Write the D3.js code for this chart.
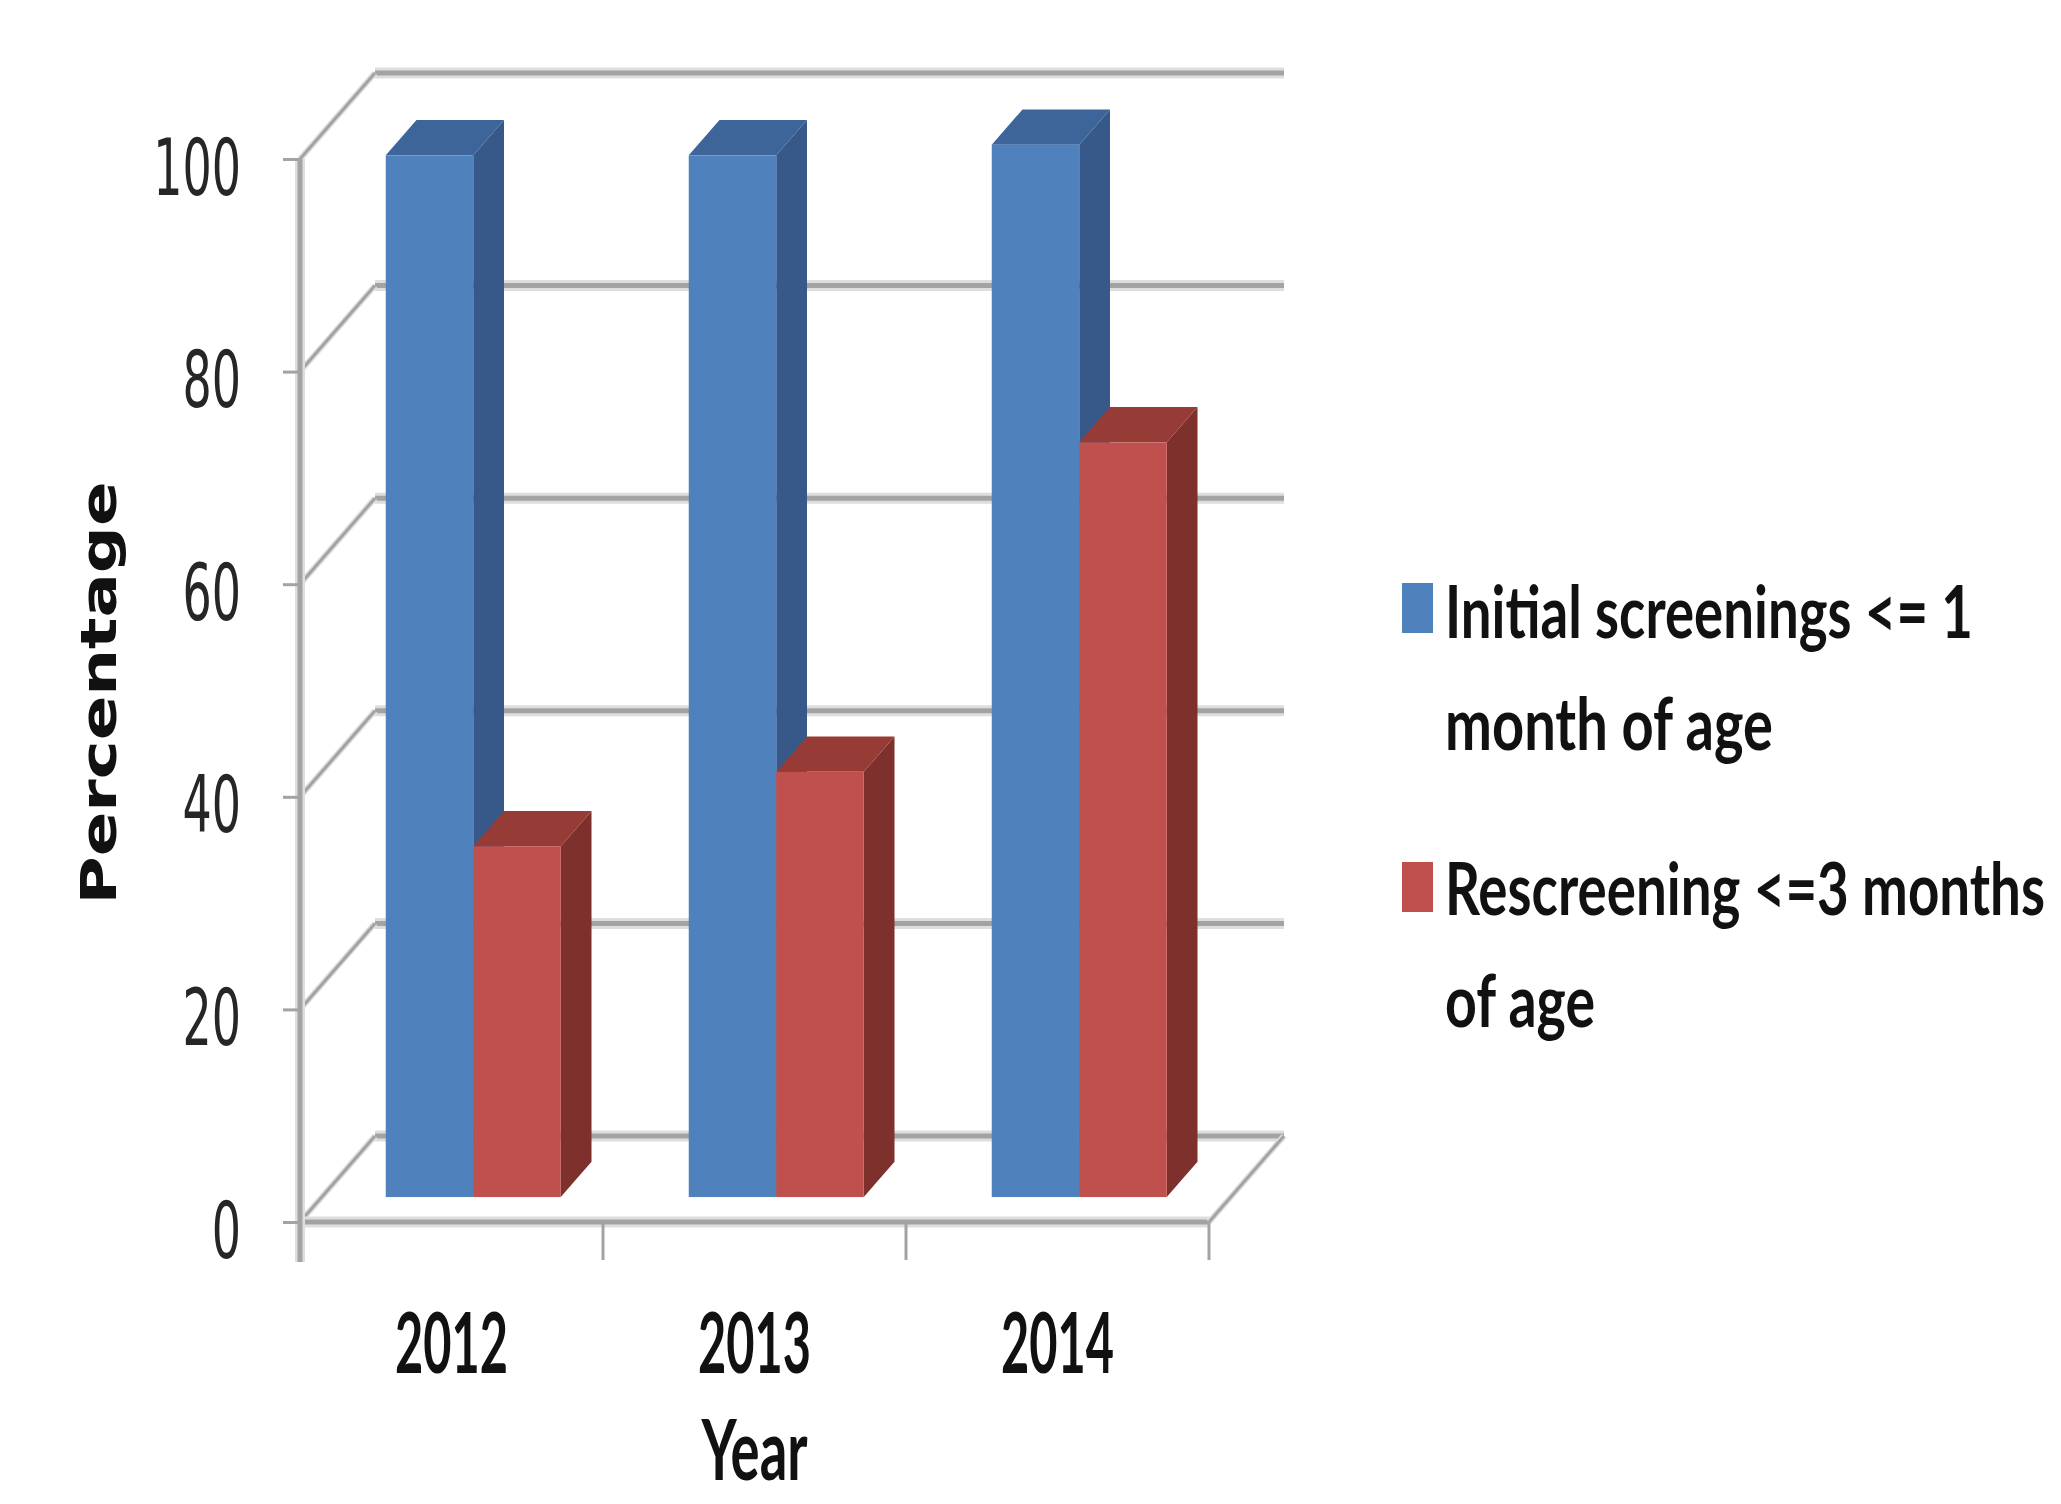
<!DOCTYPE html>
<html>
<head>
<meta charset="utf-8">
<script src="https://cdn.jsdelivr.net/npm/d3@7"></script>
<style>
  html, body { margin: 0; padding: 0; background: #ffffff; }
  svg { display: block; }
</style>
</head>
<body>
<svg id="chart" width="2061" height="1504"></svg>
<script>
// ---- data ----
const years = ["2012", "2013", "2014"];
const seriesKeys = ["initial", "rescreen"];
const seriesLabels = [
  ["Initial screenings <= 1", "month of age"],
  ["Rescreening <=3 months", "of age"]
];
const initialScreening = [98, 98, 99];   // % initial screenings <= 1 month of age
const rescreening = [33, 40, 71];        // % rescreening <= 3 months of age
const yTicks = [0, 20, 40, 60, 80, 100];

// ---- layout ----
const W = 2061, H = 1504;
const frontX0 = 300, frontX1 = 1209;   // front edge of the floor
const yBase = 1222, yTop = 159;        // front value axis
const DX = 75, DY = 86;                // depth offset of the back wall
const f1 = 0.29, f2 = 0.70;            // bar depth (front / back fraction)
const STRETCH = 1.7;                   // vertical text stretch

const faces = {
  initial:  { front: "#4f81bd", side: "#36598a", top: "#3d6599" },
  rescreen: { front: "#c0504d", side: "#7e302d", top: "#973b37" }
};

const svg = d3.select("#chart");

const x = d3.scaleBand().domain(years).range([frontX0, frontX1]).padding(0);
const xs = d3.scaleBand().domain(seriesKeys).range([64, x.bandwidth() - 64]).padding(0);
const y = d3.scaleLinear().domain([0, 100]).range([yBase, yTop]);

const values = { initial: initialScreening, rescreen: rescreening };

function gridLine(g, x1, y1, x2, y2, wCore, wHalo) {
  g.append("line").attr("x1", x1).attr("y1", y1).attr("x2", x2).attr("y2", y2)
    .attr("stroke", "#dedede").attr("stroke-width", wHalo).attr("stroke-linecap", "butt");
  g.append("line").attr("x1", x1).attr("y1", y1).attr("x2", x2).attr("y2", y2)
    .attr("stroke", "#a3a3a3").attr("stroke-width", wCore).attr("stroke-linecap", "butt");
}

// ---- walls and floor ----
const walls = svg.append("g");
yTicks.forEach(t => {
  // back wall gridline
  gridLine(walls, frontX0 + DX, y(t) - DY, frontX1 + DX, y(t) - DY, 5, 11);
});
yTicks.forEach(t => {
  // side wall diagonal
  gridLine(walls, frontX0, y(t), frontX0 + DX, y(t) - DY, 3, 6);
});
// floor front edge and right edge
gridLine(walls, frontX0, yBase, frontX1, yBase, 5, 11);
gridLine(walls, frontX1, yBase, frontX1 + DX, yBase - DY, 3, 6);

// category ticks at band boundaries
const bounds = years.map(d => x(d)).concat([x(years[years.length - 1]) + x.bandwidth()]);
bounds.forEach(b => {
  walls.append("line").attr("x1", b).attr("x2", b).attr("y1", yBase).attr("y2", yBase + 38)
    .attr("stroke", "#a3a3a3").attr("stroke-width", 3);
});

// front value axis line
gridLine(walls, frontX0, yTop, frontX0, yBase + 40, 5, 10);

// value axis ticks + labels
const yAxis = d3.axisLeft(y).tickValues(yTicks).tickSize(17).tickPadding(42);
const gY = svg.append("g").attr("transform", `translate(${frontX0},0)`).call(yAxis);
gY.select(".domain").remove();
gY.selectAll(".tick line").attr("stroke", "#a3a3a3").attr("stroke-width", 3);
gY.selectAll(".tick text")
  .attr("dy", null)
  .attr("y", 35 / STRETCH)
  .attr("transform", `scale(1,${STRETCH})`)
  .attr("font-family", "DejaVu Sans, Verdana, sans-serif")
  .attr("font-size", 46)
  .attr("fill", "#262626");

// ---- 3D bars ----
const bdx = (f2 - f1) * DX, bdy = (f2 - f1) * DY;
const bars = svg.append("g");
years.forEach((yr, i) => {
  seriesKeys.forEach(k => {
    const v = values[k][i];
    const xl = x(yr) + xs(k) + f1 * DX;
    const xr = xl + xs.bandwidth();
    const yb = y(0) - f1 * DY;
    const yt = y(v) - f1 * DY;
    const c = faces[k];
    const g = bars.append("g").attr("class", "bar");
    // right side face
    g.append("path")
      .attr("d", `M${xr},${yt}L${xr + bdx},${yt - bdy}L${xr + bdx},${yb - bdy}L${xr},${yb}Z`)
      .attr("fill", c.side);
    // top face
    g.append("path")
      .attr("d", `M${xl},${yt}L${xl + bdx},${yt - bdy}L${xr + bdx},${yt - bdy}L${xr},${yt}Z`)
      .attr("fill", c.top);
    // front face
    g.append("rect")
      .attr("x", xl).attr("y", yt).attr("width", xs.bandwidth()).attr("height", yb - yt)
      .attr("fill", c.front);
  });
});

// ---- category labels ----
const catFont = "Lato, 'Open Sans', sans-serif";
years.forEach(yr => {
  svg.append("text")
    .attr("transform", `translate(${x(yr) + x.bandwidth() / 2},1373) scale(1,${STRETCH})`)
    .attr("text-anchor", "middle")
    .attr("font-family", catFont).attr("font-size", 49).attr("font-weight", "bold")
    .attr("textLength", 113).attr("lengthAdjust", "spacingAndGlyphs")
    .attr("fill", "#111")
    .text(yr);
});

// axis titles
svg.append("text")
  .attr("transform", `translate(${(frontX0 + frontX1) / 2},1480) scale(1,${STRETCH})`)
  .attr("text-anchor", "middle")
  .attr("font-family", catFont).attr("font-size", 49).attr("font-weight", "bold")
  .attr("textLength", 106).attr("lengthAdjust", "spacingAndGlyphs")
  .attr("fill", "#111")
  .text("Year");

svg.append("text")
  .attr("transform", "translate(116,693) rotate(-90)")
  .attr("text-anchor", "middle")
  .attr("font-family", "DejaVu Sans, Verdana, sans-serif")
  .attr("font-weight", "bold").attr("font-size", 49)
  .attr("textLength", 423).attr("lengthAdjust", "spacingAndGlyphs")
  .attr("fill", "#111")
  .text("Percentage");

// ---- legend ----
const legend = svg.append("g");
const legendRows = [
  { key: "initial", sq: 583, lines: [638, 750], widths: [528, 328] },
  { key: "rescreen", sq: 862, lines: [915, 1027], widths: [600, 150] }
];
legendRows.forEach((row, i) => {
  legend.append("rect")
    .attr("x", 1402).attr("y", row.sq).attr("width", 31).attr("height", 50)
    .attr("fill", faces[row.key].front);
  seriesLabels[i].forEach((line, j) => {
    legend.append("text")
      .attr("transform", `translate(1445,${row.lines[j]}) scale(1,${STRETCH})`)
      .attr("font-family", catFont).attr("font-size", 43).attr("font-weight", "bold")
      .attr("textLength", row.widths[j]).attr("lengthAdjust", "spacingAndGlyphs")
      .attr("fill", "#111")
      .text(line);
  });
});
</script>
</body>
</html>
